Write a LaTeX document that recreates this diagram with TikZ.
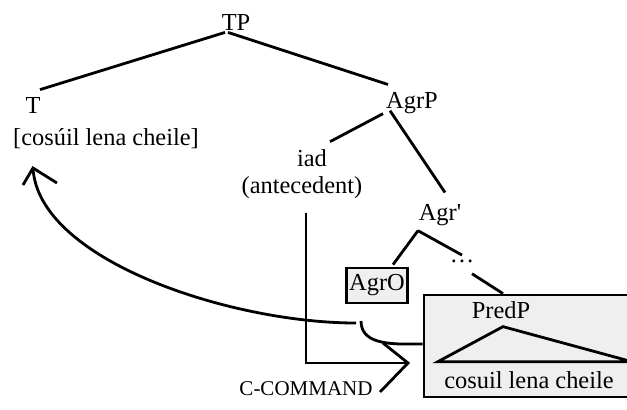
\documentclass[tikz,border=0pt]{standalone}
\usepackage{fontspec}
\setmainfont{Liberation Serif}
\usepackage{tikz}
\usetikzlibrary{positioning,calc}
\definecolor{boxgray}{HTML}{EFEFEF}

\begin{document}
\begin{tikzpicture}[
    x=0.5pt, y=-0.5pt,
    lbl/.style={inner sep=1pt, font=\fontsize{12.2}{14}\selectfont, anchor=base},
    edge/.style={line width=1.4pt},
    shaded/.style={draw, line width=1.4pt, fill=boxgray}
]
    \useasboundingbox (0,0) rectangle (627,409);

    \node[shaded, minimum width=103pt, minimum height=51pt, inner sep=0pt] (predbox) at (527,346) {};
    \node[lbl] (TP) at (236,30) {TP};
    \node[lbl] (T) at (33,113) {T};
    \node[lbl] (tval) at (106,145) {[cosúil lena cheile]};
    \node[lbl] (AgrP) at (412,108) {AgrP};
    \node[lbl] (iad) at (312,166) {iad};
    \node[lbl] (ante) at (302,193) {(antecedent)};
    \node[lbl] (agrbar) at (440,220) {Agr\textquotesingle};
    \node[lbl, shaded, anchor=center, inner xsep=1.5pt, minimum height=17.5pt] (agro) at (377,285.5) {AgrO};
    \node[lbl] (dots) at (462,262) {\ldots};
    \node[lbl] (predp) at (501,318) {PredP};
    \node[lbl] (cosuil) at (529,388) {cosuil lena cheile};
    \node[lbl, font=\fontsize{10.5}{12}\selectfont] (ccmd) at (306,395) {C-COMMAND};
    \coordinate (ctip) at (408,363);
    \coordinate (hop1) at (361,321);
    \coordinate (hop2) at (356,323);
    \coordinate (ttip) at (33,168);

    \draw[edge] ($(TP.south)+(-11,0)$) -- ($(T.north)+(7,-5)$);
    \draw[edge] ($(TP.south)+(-8,0)$) -- ($(AgrP.north)+(-24,-5)$);
    \draw[edge] ($(AgrP.south)+(-29,-2)$) -- ($(iad.north)+(18,-5)$);
    \draw[edge] ($(AgrP.south)+(-22,-5)$) -- ($(agrbar.north)+(5,-9)$);
    \draw[edge] ($(agrbar.south)+(-22,3)$) -- ($(agro.north)+(16,-2)$);
    \draw[edge] ($(agrbar.south)+(-22,3)$) -- ($(dots.north)+(0,-2)$);
    \draw[edge] ($(dots.south)+(10,9)$) -- ($(predbox.north)+(-24,0)$);
    \draw[edge] ($(predp.south)+(2,6)$) -- ($(cosuil.north west)+(-4,-7)$) -- ($(cosuil.north west)+(190,-7)$) -- cycle;

    \draw[edge] ($(ante.south)+(4,12)$) |- (ctip);
    \draw[edge] ($(ctip)+(-25,-20)$) -- (ctip) -- ($(ctip)+(-28,29)$);

    \draw[edge] ($(predbox.west)+(0,-2)$) to[out=180, in=-90] (hop1);
    \draw[edge] (hop2) .. controls (230,323) and (38,260) .. (ttip);
    \draw[edge] ($(ttip)+(-10,17)$) -- (ttip) -- ($(ttip)+(24,15)$);
\end{tikzpicture}
\end{document}
